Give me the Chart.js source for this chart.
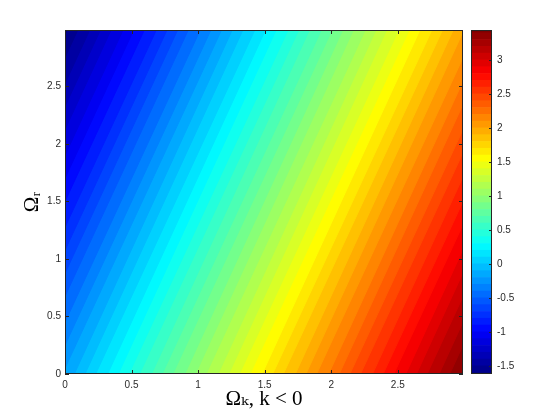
<!DOCTYPE html>
<html lang="en">
<head>
  <meta charset="utf-8">
  <title>Omega_r vs Omega_k contour</title>
  <style>
    html, body { margin: 0; padding: 0; background: #fff; }
    #wrap { position: relative; width: 560px; height: 420px; }
    #wrap canvas { position: absolute; left: 0; top: 0; }
  </style>
</head>
<body>
  <div id="wrap">
    <canvas id="field" width="560" height="420"></canvas>
    <canvas id="cbar" width="560" height="420"></canvas>
  </div>
  <script src="https://cdn.jsdelivr.net/npm/chart.js"></script>
  <script>
    // contour levels (colour bar steps)
    const levels = [-1.7, -1.6, -1.5, -1.4, -1.3, -1.2, -1.1, -1.0, -0.9, -0.8, -0.7, -0.6, -0.5, -0.4, -0.3, -0.2, -0.1,
      0, 0.1, 0.2, 0.3, 0.4, 0.5, 0.6, 0.7, 0.8, 0.9, 1.0, 1.1, 1.2, 1.3, 1.4, 1.5, 1.6, 1.7, 1.8, 1.9,
      2.0, 2.1, 2.2, 2.3, 2.4, 2.5, 2.6, 2.7, 2.8, 2.9, 3.0, 3.1, 3.2, 3.3, 3.4, 3.5]
    // where each contour line meets Omega_r = 0 and Omega_r = 3
    const xAtBottom = [-1.26, -1.18, -1.10, -1.01, -0.93, -0.85, -0.76, -0.68, -0.60, -0.51, -0.43, -0.35, -0.27, -0.18, -0.10, -0.02, 0.07,
      0.15, 0.23, 0.32, 0.40, 0.48, 0.56, 0.65, 0.73, 0.81, 0.90, 0.98, 1.06, 1.15, 1.23, 1.31, 1.39, 1.48, 1.56, 1.64, 1.73,
      1.81, 1.89, 1.98, 2.06, 2.14, 2.22, 2.31, 2.39, 2.47, 2.56, 2.64, 2.72, 2.81, 2.89, 2.97, 3.05]
    const xAtTop = [-0.07, 0.02, 0.10, 0.19, 0.27, 0.35, 0.44, 0.52, 0.60, 0.69, 0.77, 0.85, 0.93, 1.02, 1.10, 1.18, 1.26,
      1.34, 1.43, 1.51, 1.59, 1.68, 1.76, 1.84, 1.93, 2.01, 2.09, 2.17, 2.26, 2.34, 2.42, 2.51, 2.59, 2.67, 2.76, 2.84, 2.92,
      3.00, 3.09, 3.17, 3.25, 3.34, 3.42, 3.50, 3.59, 3.67, 3.75, 3.83, 3.92, 4.00, 4.08, 4.17, 4.25]
    const yEnds = [0, 3]

    const xRange = [0, 2.99]
    const yRange = [0, 2.99]
    const zRange = [-1.62, 3.44]
    const xTicks = [0, 0.5, 1, 1.5, 2, 2.5]
    const yTicks = [0, 0.5, 1, 1.5, 2, 2.5]
    const cbarTicks = [-1.5, -1, -0.5, 0, 0.5, 1, 1.5, 2, 2.5, 3]

    const tickFont = { family: "'Liberation Sans', Arial, sans-serif", size: 10 }
    const tickColor = '#2b2b2b'
    const labelFont = { family: "'Liberation Serif', 'DejaVu Serif', serif", size: 21 }

    // MATLAB jet colormap
    function jet(v) {
      const t = (v - zRange[0]) / (zRange[1] - zRange[0])
      const c = k => Math.round(255 * Math.max(0, Math.min(1, 1.5 - Math.abs(4 * t - k))))
      return `rgb(${c(3)}, ${c(2)}, ${c(1)})`
    }

    // box + inward tick marks, like matlab axes
    const boxTicks = {
      id: 'boxTicks',
      afterDraw(chart, args, opts) {
        const { ctx, chartArea: a } = chart
        ctx.save()
        ctx.strokeStyle = opts.color
        ctx.lineWidth = 1
        ctx.strokeRect(a.left + 0.5, a.top + 0.5, a.right - a.left - 1, a.bottom - a.top - 1)
        ctx.beginPath()
        const len = opts.len
        if (opts.x) {
          const sx = chart.scales.x
          sx.ticks.forEach(t => {
            const px = Math.round(sx.getPixelForValue(t.value)) + 0.5
            ctx.moveTo(px, a.bottom); ctx.lineTo(px, a.bottom - len)
            ctx.moveTo(px, a.top); ctx.lineTo(px, a.top + len)
          })
        }
        const sy = chart.scales.y
        sy.ticks.forEach(t => {
          const py = Math.round(sy.getPixelForValue(t.value)) + 0.5
          if (opts.left) { ctx.moveTo(a.left, py); ctx.lineTo(a.left + len, py) }
          ctx.moveTo(a.right, py); ctx.lineTo(a.right - len, py)
        })
        ctx.stroke()
        ctx.restore()
      }
    }

    function renderChart() {
      // each band covers everything left of its upper contour; dataset 0 is drawn last (on top)
      const bands = levels.slice(0, -1).map((lo, i) => {
        const col = jet((lo + levels[i + 1]) / 2)
        return {
          data: [
            { x: xAtBottom[0], y: yEnds[0] },
            { x: xAtTop[0], y: yEnds[1] },
            { x: xAtTop[i + 1], y: yEnds[1] },
            { x: xAtBottom[i + 1], y: yEnds[0] }
          ],
          fill: 'shape',
          backgroundColor: col,
          borderColor: col,
          borderWidth: 1,
          pointRadius: 0,
          tension: 0
        }
      })

      new Chart(document.getElementById('field'), {
        type: 'line',
        data: { datasets: bands },
        options: {
          responsive: false,
          animation: false,
          devicePixelRatio: 1,
          events: [],
          layout: { padding: { left: 0, top: 30, right: 97, bottom: 0 } },
          plugins: {
            legend: { display: false },
            tooltip: { enabled: false },
            boxTicks: { color: '#262626', len: 4, x: true, left: true }
          },
          scales: {
            x: {
              type: 'linear',
              min: xRange[0],
              max: xRange[1],
              grid: { display: false, drawTicks: false },
              border: { display: false },
              afterBuildTicks: s => { s.ticks = xTicks.map(v => ({ value: v })) },
              afterFit: s => { s.height = 46 },
              ticks: { font: tickFont, color: tickColor, padding: 5, maxRotation: 0, autoSkip: false, callback: v => String(v) },
              title: { display: true, text: 'Ωₖ, k < 0', font: labelFont, color: '#000', padding: { top: 0, bottom: 8 } }
            },
            y: {
              type: 'linear',
              min: yRange[0],
              max: yRange[1],
              grid: { display: false, drawTicks: false },
              border: { display: false },
              afterBuildTicks: s => { s.ticks = yTicks.map(v => ({ value: v })) },
              afterFit: s => { s.width = 65 },
              ticks: { font: tickFont, color: tickColor, padding: 4, autoSkip: false, callback: v => String(v) },
              title: { display: true, text: 'Ωᵣ', font: labelFont, color: '#000', padding: { top: 20, bottom: 0 } }
            }
          }
        },
        plugins: [boxTicks]
      })

      // colour bar: one floating bar per level step
      const steps = levels.slice(0, -1).map((lo, i) => ({
        data: [[lo, levels[i + 1]]],
        backgroundColor: jet((lo + levels[i + 1]) / 2),
        borderWidth: 0,
        barPercentage: 1,
        categoryPercentage: 1,
        grouped: false
      }))

      new Chart(document.getElementById('cbar'), {
        type: 'bar',
        data: { labels: [''], datasets: steps },
        options: {
          responsive: false,
          animation: false,
          devicePixelRatio: 1,
          events: [],
          layout: { padding: { left: 471, top: 30, right: 0, bottom: 46 } },
          plugins: {
            legend: { display: false },
            tooltip: { enabled: false },
            boxTicks: { color: '#262626', len: 3, x: false, left: false }
          },
          scales: {
            x: { display: false },
            y: {
              position: 'right',
              min: zRange[0],
              max: zRange[1],
              grid: { display: false, drawTicks: false },
              border: { display: false },
              afterBuildTicks: s => { s.ticks = cbarTicks.map(v => ({ value: v })) },
              afterFit: s => { s.width = 68 },
              ticks: { font: tickFont, color: tickColor, padding: 5, autoSkip: false, callback: v => String(v) }
            }
          }
        },
        plugins: [boxTicks]
      })
    }

    window.onload = renderChart
  </script>
</body>
</html>
